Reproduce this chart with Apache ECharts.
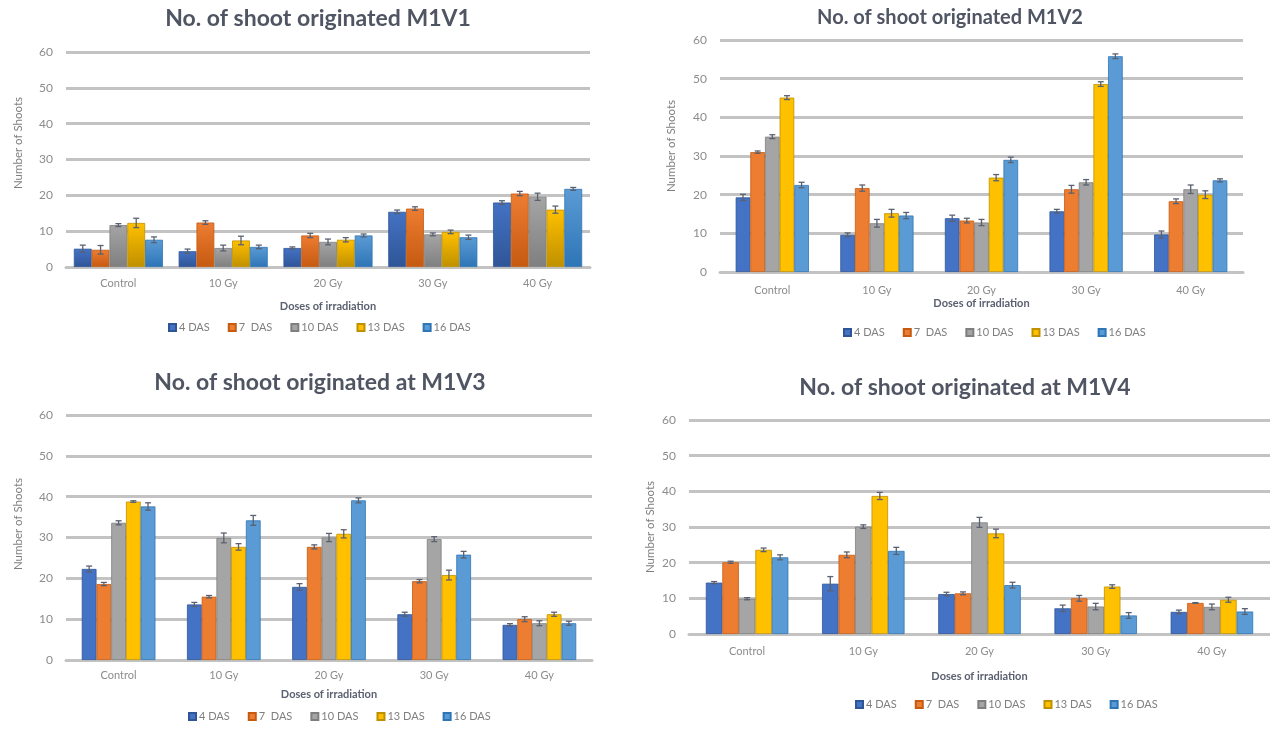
<!DOCTYPE html>
<html><head><meta charset="utf-8">
<script src="https://cdn.jsdelivr.net/npm/echarts@6/dist/echarts.min.js"></script>
<style>html,body{margin:0;padding:0;background:#fff}#c{width:1270px;height:729px}</style>
</head><body><div id="c"></div>
<script>
// ---------- DATA ----------
const categories = ['Control', '10 Gy', '20 Gy', '30 Gy', '40 Gy'];
const seriesNames = ['4 DAS', '7  DAS', '10 DAS', '13 DAS', '16 DAS'];
const yTickMin = 0, yTickMax = 60, yTickStep = 10;
const titleTexts = ['No. of shoot originated M1V1', 'No. of shoot originated M1V2',
                    'No. of shoot originated at M1V3', 'No. of shoot originated at M1V4'];
const xAxisTitle = 'Doses of irradiation';
const yAxisTitle = 'Number of Shoots';

// M1V1
const m1v1_4das  = [5.1, 4.4, 5.3, 15.4, 18.0];
const m1v1_7das  = [4.8, 12.4, 8.8, 16.3, 20.5];
const m1v1_10das = [11.7, 5.3, 7.0, 9.1, 19.6];
const m1v1_13das = [12.3, 7.4, 7.6, 9.8, 16.0];
const m1v1_16das = [7.6, 5.6, 8.8, 8.3, 21.8];
const m1v1_4das_err  = [1.0, 0.6, 0.3, 0.5, 0.5];
const m1v1_7das_err  = [1.2, 0.5, 0.6, 0.5, 0.6];
const m1v1_10das_err = [0.4, 0.8, 0.8, 0.4, 1.0];
const m1v1_13das_err = [1.3, 1.2, 0.6, 0.5, 1.0];
const m1v1_16das_err = [0.8, 0.5, 0.4, 0.6, 0.4];

// M1V2
const m1v2_4das  = [19.3, 9.6, 13.9, 15.7, 9.7];
const m1v2_7das  = [31.0, 21.7, 13.3, 21.4, 18.3];
const m1v2_10das = [35.0, 12.6, 12.8, 23.2, 21.4];
const m1v2_13das = [45.1, 15.2, 24.4, 48.6, 20.0];
const m1v2_16das = [22.5, 14.6, 29.0, 55.8, 23.7];
const m1v2_4das_err  = [0.8, 0.5, 0.8, 0.5, 0.9];
const m1v2_7das_err  = [0.3, 0.8, 0.6, 1.0, 0.6];
const m1v2_10das_err = [0.5, 1.0, 0.8, 0.7, 1.1];
const m1v2_13das_err = [0.5, 1.0, 0.8, 0.6, 1.0];
const m1v2_16das_err = [0.7, 0.8, 0.7, 0.6, 0.4];

// M1V3
const m1v3_4das  = [22.3, 13.6, 17.9, 11.2, 8.6];
const m1v3_7das  = [18.6, 15.5, 27.7, 19.3, 10.0];
const m1v3_10das = [33.6, 29.9, 30.0, 29.6, 9.0];
const m1v3_13das = [38.8, 27.7, 30.9, 20.8, 11.2];
const m1v3_16das = [37.6, 34.2, 39.1, 25.8, 9.0];
const m1v3_4das_err  = [0.7, 0.5, 0.8, 0.5, 0.3];
const m1v3_7das_err  = [0.4, 0.3, 0.5, 0.4, 0.6];
const m1v3_10das_err = [0.5, 1.2, 1.0, 0.6, 0.6];
const m1v3_13das_err = [0.2, 0.8, 1.0, 1.2, 0.5];
const m1v3_16das_err = [0.9, 1.2, 0.6, 0.8, 0.5];

// M1V4
const m1v4_4das  = [14.4, 14.1, 11.2, 7.2, 6.2];
const m1v4_7das  = [20.1, 22.2, 11.4, 10.0, 8.7];
const m1v4_10das = [9.9, 30.1, 31.3, 7.7, 7.6];
const m1v4_13das = [23.6, 38.7, 28.2, 13.3, 9.6];
const m1v4_16das = [21.5, 23.3, 13.7, 5.2, 6.3];
const m1v4_4das_err  = [0.3, 2.0, 0.5, 0.9, 0.5];
const m1v4_7das_err  = [0.3, 0.8, 0.4, 0.8, 0.1];
const m1v4_10das_err = [0.3, 0.5, 1.4, 0.9, 0.8];
const m1v4_13das_err = [0.5, 1.0, 1.2, 0.5, 0.7];
const m1v4_16das_err = [0.7, 1.0, 0.8, 0.8, 0.8];

const panelValues = [
  [m1v1_4das, m1v1_7das, m1v1_10das, m1v1_13das, m1v1_16das],
  [m1v2_4das, m1v2_7das, m1v2_10das, m1v2_13das, m1v2_16das],
  [m1v3_4das, m1v3_7das, m1v3_10das, m1v3_13das, m1v3_16das],
  [m1v4_4das, m1v4_7das, m1v4_10das, m1v4_13das, m1v4_16das]
];
const panelErrors = [
  [m1v1_4das_err, m1v1_7das_err, m1v1_10das_err, m1v1_13das_err, m1v1_16das_err],
  [m1v2_4das_err, m1v2_7das_err, m1v2_10das_err, m1v2_13das_err, m1v2_16das_err],
  [m1v3_4das_err, m1v3_7das_err, m1v3_10das_err, m1v3_13das_err, m1v3_16das_err],
  [m1v4_4das_err, m1v4_7das_err, m1v4_10das_err, m1v4_13das_err, m1v4_16das_err]
];

// ---------- LAYOUT / STYLE ----------
const colors = ['#4472C4', '#ED7D31', '#A5A5A5', '#FFC000', '#5B9BD5'];
const darker = ['#2F5597', '#C55A11', '#7F7F7F', '#BF9000', '#2E75B6'];
const FONT = 'Lato, "Open Sans", sans-serif';
const panels = [
  {grid:{left:66, top:52, width:524, height:215}, gap:0.15, titleX:318, titleTop:7, titleSize:23,
   legendLeft:168, legendTop:322, yNameGap:42, yNamePad:33, xNameGap:34, labelMargin:11, gradient:true},
  {grid:{left:720, top:40, width:523, height:232}, gap:0.30, titleX:950, titleTop:8, titleSize:20,
   legendLeft:843, legendTop:327, yNameGap:43, yNamePad:20, xNameGap:26, labelMargin:13, gradient:false},
  {grid:{left:66, top:415, width:526, height:245}, gap:0.30, titleX:320, titleTop:371, titleSize:23,
   legendLeft:188, legendTop:711, yNameGap:42, yNamePad:27, xNameGap:29, labelMargin:10, gradient:false},
  {grid:{left:689, top:420, width:581, height:214}, gap:0.29, titleX:965, titleTop:376, titleSize:23,
   legendLeft:855, legendTop:699, yNameGap:33, yNamePad:0, xNameGap:37, labelMargin:12, gradient:false}
];

function errRender(sIdx, gapRatio) {
  return function (params, api) {
    const cat = api.value(0), v = api.value(1), e = api.value(2);
    const band = api.size([1, 0])[0];
    const groupW = band * (1 - gapRatio);
    const bw = groupW / seriesNames.length;
    const c = api.coord([cat, v]);
    const x = c[0] - groupW / 2 + bw * (sIdx + 0.5);
    const yt = api.coord([cat, v + e])[1];
    const yb = api.coord([cat, v - e])[1];
    const st = {stroke: '#5a6170', lineWidth: 1.3};
    return {type: 'group', children: [
      {type: 'line', shape: {x1: x, y1: yt, x2: x, y2: yb}, style: st},
      {type: 'line', shape: {x1: x - 3, y1: yt, x2: x + 3, y2: yt}, style: st},
      {type: 'line', shape: {x1: x - 3, y1: yb, x2: x + 3, y2: yb}, style: st}
    ]};
  };
}

const option = {
  backgroundColor: '#ffffff',
  animation: false,
  color: colors,
  title: [], legend: [], grid: [], xAxis: [], yAxis: [], series: []
};

panels.forEach((p, gi) => {
  option.title.push({
    text: titleTexts[gi], left: p.titleX, top: p.titleTop, textAlign: 'center', padding: 0,
    textStyle: {fontFamily: FONT, fontWeight: 'bold', fontSize: p.titleSize, color: '#4f5562'}
  });
  option.legend.push({
    data: seriesNames.map((n, i) => ({name: n, itemStyle: {color: colors[i]}})),
    left: p.legendLeft, top: p.legendTop, padding: 0, icon: 'rect',
    itemWidth: 7, itemHeight: 7, itemGap: 18, selectedMode: false,
    textStyle: {fontFamily: FONT, fontSize: 11, color: '#7f7f7f', padding: [0, 0, 0, -2]}
  });
  option.grid.push(Object.assign({containLabel: false}, p.grid));
  option.xAxis.push({
    type: 'category', gridIndex: gi, data: categories,
    name: xAxisTitle, nameLocation: 'middle', nameGap: p.xNameGap,
    nameTextStyle: {fontFamily: FONT, fontWeight: 'bold', fontSize: 11, color: '#5b6070'},
    axisLine: {show: true, lineStyle: {color: '#c3c3c3', width: 3}},
    axisTick: {show: false},
    axisLabel: {fontFamily: FONT, fontSize: 11, color: '#8c8c8c', margin: p.labelMargin}
  });
  option.yAxis.push({
    type: 'value', gridIndex: gi, min: yTickMin, max: yTickMax, interval: yTickStep,
    name: yAxisTitle, nameLocation: 'middle', nameGap: p.yNameGap,
    nameTextStyle: {fontFamily: FONT, fontSize: 11.5, color: '#7f7f7f', padding: [0, 0, 0, p.yNamePad]},
    axisLine: {show: false}, axisTick: {show: false},
    splitLine: {lineStyle: {color: '#c3c3c3', width: 3}},
    axisLabel: {fontFamily: FONT, fontSize: 12, color: '#8c8c8c', margin: 13}
  });
  seriesNames.forEach((name, si) => {
    const fill = p.gradient
      ? new echarts.graphic.LinearGradient(0, 0, 0, 1, [{offset: 0, color: colors[si]}, {offset: 1, color: darker[si]}])
      : colors[si];
    option.series.push({
      type: 'bar', name: name, xAxisIndex: gi, yAxisIndex: gi,
      data: panelValues[gi][si],
      barGap: '0%', barCategoryGap: Math.round(p.gap * 100) + '%',
      itemStyle: {color: fill, borderColor: darker[si], borderWidth: 0.8}
    });
  });
  seriesNames.forEach((name, si) => {
    option.series.push({
      type: 'custom', name: 'err-' + gi + '-' + si, xAxisIndex: gi, yAxisIndex: gi, z: 5,
      renderItem: errRender(si, p.gap),
      data: panelValues[gi][si].map((v, ci) => [ci, v, panelErrors[gi][si][ci]])
    });
  });
});

const chart = echarts.init(document.getElementById('c'), null, {renderer: 'canvas'});
chart.setOption(option);
</script>
</body></html>
